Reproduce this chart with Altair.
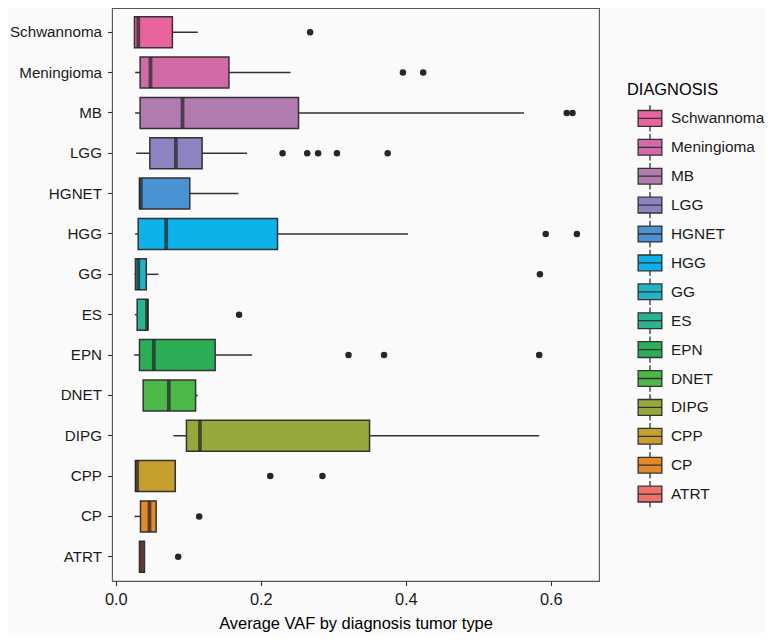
import altair as alt
import pandas as pd

categories = ["Schwannoma", "Meningioma", "MB", "LGG", "HGNET", "HGG", "GG",
              "ES", "EPN", "DNET", "DIPG", "CPP", "CP", "ATRT"]
whisker_lo = [0.0257, 0.0266, 0.0266, 0.028, 0.0326, 0.0266, 0.0257,
              0.0262, 0.0252, 0.0377, 0.0795, 0.027, 0.0257, 0.0326]
q1 = [0.0257, 0.0335, 0.0335, 0.0469, 0.0326, 0.0308, 0.027,
      0.0294, 0.0326, 0.0377, 0.0974, 0.027, 0.034, 0.0326]
median = [0.031, 0.0478, 0.092, 0.0828, 0.0345, 0.0694, 0.031,
          0.043, 0.0524, 0.0731, 0.116, 0.0294, 0.0464, 0.036]
q3 = [0.078, 0.156, 0.252, 0.119, 0.102, 0.223, 0.042,
      0.044, 0.137, 0.110, 0.350, 0.082, 0.0556, 0.0395]
whisker_hi = [0.113, 0.241, 0.563, 0.181, 0.169, 0.403, 0.0588,
              0.044, 0.188, 0.113, 0.584, 0.082, 0.0556, 0.0395]
outliers = [
    [0.268],
    [0.396, 0.424],
    [0.622, 0.630],
    [0.230, 0.264, 0.279, 0.305, 0.375],
    [],
    [0.593, 0.636],
    [0.585],
    [0.170],
    [0.321, 0.370, 0.584],
    [],
    [],
    [0.213, 0.285],
    [0.115],
    [0.086],
]
colors = ["#E9649E", "#D36AA8", "#B27BAF", "#8E82C0", "#4A93D3", "#0BB1E8", "#21B3C6",
          "#28B390", "#2BAE56", "#4CB848", "#94A83C", "#C6A02F", "#E2892B", "#EF6F6A"]

box_df = pd.DataFrame({
    "DIAGNOSIS": categories,
    "lo": whisker_lo, "q1": q1, "med": median, "q3": q3, "hi": whisker_hi,
})
out_rows = []
for c, vals in zip(categories, outliers):
    for v in vals:
        out_rows.append({"DIAGNOSIS": c, "v": v})
out_df = pd.DataFrame(out_rows)

FONT = "Liberation Sans"
FS = 16.4
FSY = 15.2
FSL = 15.4

yscale = alt.Scale(domain=categories, paddingInner=0, paddingOuter=0.1)
xscale = alt.Scale(domain=[-0.0053, 0.6665], nice=False, zero=False)

x_axis = alt.Axis(values=[0, 0.2, 0.4, 0.6], format=".1f", grid=False, domain=False,
                  title="Average VAF by diagnosis tumor type",
                  titleFontWeight="normal", titleFontSize=FS, titleFont=FONT,
                  titleColor="#000000", titleBaseline="alphabetic", titleY=47,
                  labelFontSize=FS, labelFont=FONT, labelColor="#1A1A1A",
                  tickSize=4.5, tickColor="#333333", tickWidth=1.1, labelPadding=6)
y_axis = alt.Axis(title=None, grid=False, domain=False,
                  labelFontSize=FSY, labelFont=FONT, labelColor="#1A1A1A",
                  tickSize=4.5, tickColor="#333333", tickWidth=1.1, labelPadding=6)

base = alt.Chart(box_df)

whisk = base.mark_rule(color="#333333", strokeWidth=1.5).encode(
    x=alt.X("lo:Q", scale=xscale, axis=x_axis),
    x2="hi:Q",
    y=alt.Y("DIAGNOSIS:N", scale=yscale, axis=y_axis, sort=categories),
)

legend_path = "M-1.08,-0.72H1.08V0.72H-1.08Z M-1.08,0H1.08 M0,-1.2V-0.72 M0,0.72V1.2"

boxes = base.mark_bar(size=31, stroke="#333333", strokeWidth=1.5).encode(
    x=alt.X("q1:Q", scale=xscale),
    x2="q3:Q",
    y=alt.Y("DIAGNOSIS:N", scale=yscale, sort=categories),
    color=alt.Color("DIAGNOSIS:N",
                    scale=alt.Scale(domain=categories, range=colors),
                    legend=alt.Legend(
                        title="DIAGNOSIS", orient="none", legendX=515, legendY=74,
                        symbolType=legend_path, symbolSize=484,
                        symbolStrokeColor="#333333", symbolStrokeWidth=1.3,
                        symbolOffset=11, labelOffset=9,
                        labelFontSize=FSL, labelFont=FONT, labelColor="#1A1A1A",
                        titleFontSize=FS, titleFont=FONT, titleFontWeight="normal",
                        titleColor="#000000", titlePadding=8, rowPadding=-3.1,
                        padding=0)),
)

meds = base.mark_tick(color="#222222", thickness=3.8, size=31).encode(
    x=alt.X("med:Q", scale=xscale),
    y=alt.Y("DIAGNOSIS:N", scale=yscale, sort=categories),
)

pts = alt.Chart(out_df).mark_circle(color="#262626", size=42, opacity=1).encode(
    x=alt.X("v:Q", scale=xscale),
    y=alt.Y("DIAGNOSIS:N", scale=yscale, sort=categories),
)

chart = alt.layer(whisk, boxes, meds, pts).properties(
    width=487, height=573,
    autosize=alt.AutoSizeParams(type="none"),
    padding={"left": 104, "top": 0, "right": 166, "bottom": 52},
    background="#FAFAFA",
).configure_view(stroke="#555555", strokeWidth=1.1, fill="#FAFAFA")

chart.save("out.html", embed_options={"renderer": "svg", "actions": False})
